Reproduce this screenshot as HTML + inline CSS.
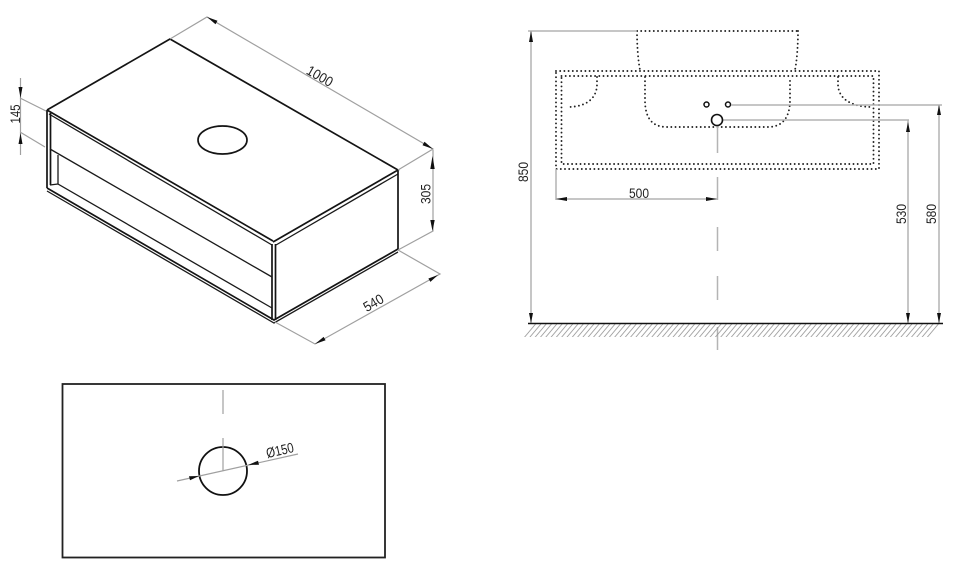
<!DOCTYPE html>
<html>
<head>
<meta charset="utf-8">
<style>
html,body{margin:0;padding:0;background:#fff;width:960px;height:579px;overflow:hidden}
svg{display:block}
text{font-family:"Liberation Sans",sans-serif;font-size:14px;fill:#222;text-anchor:middle}
.k{stroke:#141414;stroke-width:1.7;fill:none}
.k2{stroke:#1a1a1a;stroke-width:1.3;fill:none}
.g{stroke:#a0a0a0;stroke-width:1.2;fill:none}
.gb{stroke:#b4b4b4;stroke-width:1.5;fill:none}
.d{stroke:#222;stroke-width:1.9;fill:none;stroke-linecap:round;stroke-dasharray:0 4.200}
.a{fill:#111;stroke:none}
</style>
</head>
<body>
<svg width="960" height="579" viewBox="0 0 960 579" xmlns="http://www.w3.org/2000/svg">
<defs>
<pattern id="h" patternUnits="userSpaceOnUse" width="5.300" height="13" patternTransform="translate(533 324) skewX(-40)">
<line x1="2.600" y1="0" x2="2.600" y2="13" stroke="#909090" stroke-width="1"/>
</pattern>
</defs>

<!-- ISO VIEW -->
<path class="k" d="M47 110 L170 39 L398 170 L273 242"/>
<path class="k" d="M47 110 L273 241"/>
<path class="k2" d="M49 114 L272 245"/>
<path class="k2" d="M276 245 L398 174"/>
<path class="k" d="M47 110 V188 M50.500 113 V185"/>
<path class="k" d="M272 244 V320 M275.500 244 V320"/>
<path class="k" d="M398 170 V250"/>
<path class="k" d="M47 188 L274 320 L398 249"/>
<path class="k2" d="M47 191 L274 323 L398 252"/>
<path class="k2" d="M50 149 L272 277"/>
<path class="k2" d="M58 155 V184 L272 308"/>
<path class="k2" d="M50 185 L58 184"/>
<ellipse class="k" cx="222.500" cy="140" rx="24.500" ry="14"/>

<!-- iso dims -->
<path class="g" d="M170 39 L207 17 L433 149 L398 170"/>
<polygon class="a" points="207,17 217.500,20.800 215.500,24.200"/>
<polygon class="a" points="433,149 422.500,145.200 424.500,141.800"/>
<text transform="translate(317.500 80.300) rotate(30)" textLength="28" lengthAdjust="spacingAndGlyphs">1000</text>

<path class="g" d="M433 150 V231 L398 250"/>
<polygon class="a" points="432.500,156 430.300,169 434.700,169"/>
<polygon class="a" points="432.500,231 430.300,220 434.700,220"/>
<text transform="translate(430.700 194) rotate(-90)" textLength="20" lengthAdjust="spacingAndGlyphs">305</text>

<path class="g" d="M275 322 L315 344 L440 274 L398 250"/>
<polygon class="a" points="315,344 323.600,336.900 325.600,340.300"/>
<polygon class="a" points="438,275 428.400,278.500 430.400,281.900"/>
<text transform="translate(375.800 307) rotate(-30)" textLength="21" lengthAdjust="spacingAndGlyphs">540</text>

<path class="g" d="M20.500 78 V155 M20 98 L46 111 M20 132 L45 147"/>
<polygon class="a" points="20.500,98 18.500,87 22.500,87"/>
<polygon class="a" points="20.500,133 18.500,144 22.500,144"/>
<text transform="translate(20 114) rotate(-90)" textLength="19" lengthAdjust="spacingAndGlyphs">145</text>

<!-- RIGHT VIEW dotted -->
<path class="d" d="M637 31 H798"/>
<path class="d" d="M637 31 C637 45 638 60 640 70"/>
<path class="d" d="M798 31 C798 45 797 60 795 70"/>
<rect class="d" x="556" y="71" width="323" height="98"/>
<rect class="d" x="561.500" y="76" width="312" height="88"/>
<path class="d" d="M645 77 V100 C645 118 652 127 667 127 H768 C782 127 790 118 790 100 V77"/>
<path class="d" d="M597 77 V84 C597 98 587 107 567 107"/>
<path class="d" d="M838 77 V84 C838 98 850 107 873 107"/>

<circle cx="706.500" cy="104.500" r="2.500" fill="#fff" stroke="#111" stroke-width="1.500"/>
<circle cx="728" cy="104.500" r="2.500" fill="#fff" stroke="#111" stroke-width="1.500"/>

<!-- right dims -->
<path class="gb" d="M731 105 H942"/>
<path class="gb" d="M723 120 H909"/>
<path class="gb" d="M908 120 V323 M939 105 V323"/>
<polygon class="a" points="939,105 937,115 941,115"/>
<polygon class="a" points="908,122 906,132 910,132"/>
<polygon class="a" points="908,323 906,313 910,313"/>
<polygon class="a" points="939,323 937,313 941,313"/>
<path class="gb" d="M528 31 H637 M531 31 V323"/>
<polygon class="a" points="531,31 529,42 533,42"/>
<polygon class="a" points="531,323 529,313 533,313"/>
<path class="gb" d="M556 169 V200 M556 199 H718"/>
<polygon class="a" points="556,199 567,197 567,201"/>
<polygon class="a" points="717,199 706,197 706,201"/>
<path class="gb" d="M717.500 125 V153 M717.500 177 V200 M717.500 227 V251 M717.500 276 V300 M717.500 327 V350"/>
<circle cx="717" cy="120" r="5.500" fill="none" stroke="#111" stroke-width="1.600"/>
<text transform="translate(523 172) rotate(-90)" dy="5" textLength="20" lengthAdjust="spacingAndGlyphs">850</text>
<text x="639" y="198" textLength="20" lengthAdjust="spacingAndGlyphs">500</text>
<text transform="translate(901 214) rotate(-90)" dy="5" textLength="20" lengthAdjust="spacingAndGlyphs">530</text>
<text transform="translate(931 214) rotate(-90)" dy="5" textLength="20" lengthAdjust="spacingAndGlyphs">580</text>

<!-- ground -->
<polygon points="533,324 942,324 930,337 522,337" fill="url(#h)"/>
<line x1="528" y1="323.500" x2="943" y2="323.500" stroke="#111" stroke-width="1.600"/>

<!-- BOTTOM VIEW -->
<rect x="62.500" y="384" width="322.500" height="173.500" fill="none" stroke="#222" stroke-width="1.800"/>
<circle cx="223" cy="471" r="24" fill="none" stroke="#111" stroke-width="1.800"/>
<path class="g" d="M223 390 V414 M223 438 V471 M177 481 L298 454"/>
<polygon class="a" points="199,476 189,476.300 190,480.300"/>
<polygon class="a" points="248,465 258,460.700 259,464.700"/>
<text transform="translate(281 455) rotate(-13)" textLength="28" lengthAdjust="spacingAndGlyphs">Ø150</text>
</svg>
</body>
</html>
